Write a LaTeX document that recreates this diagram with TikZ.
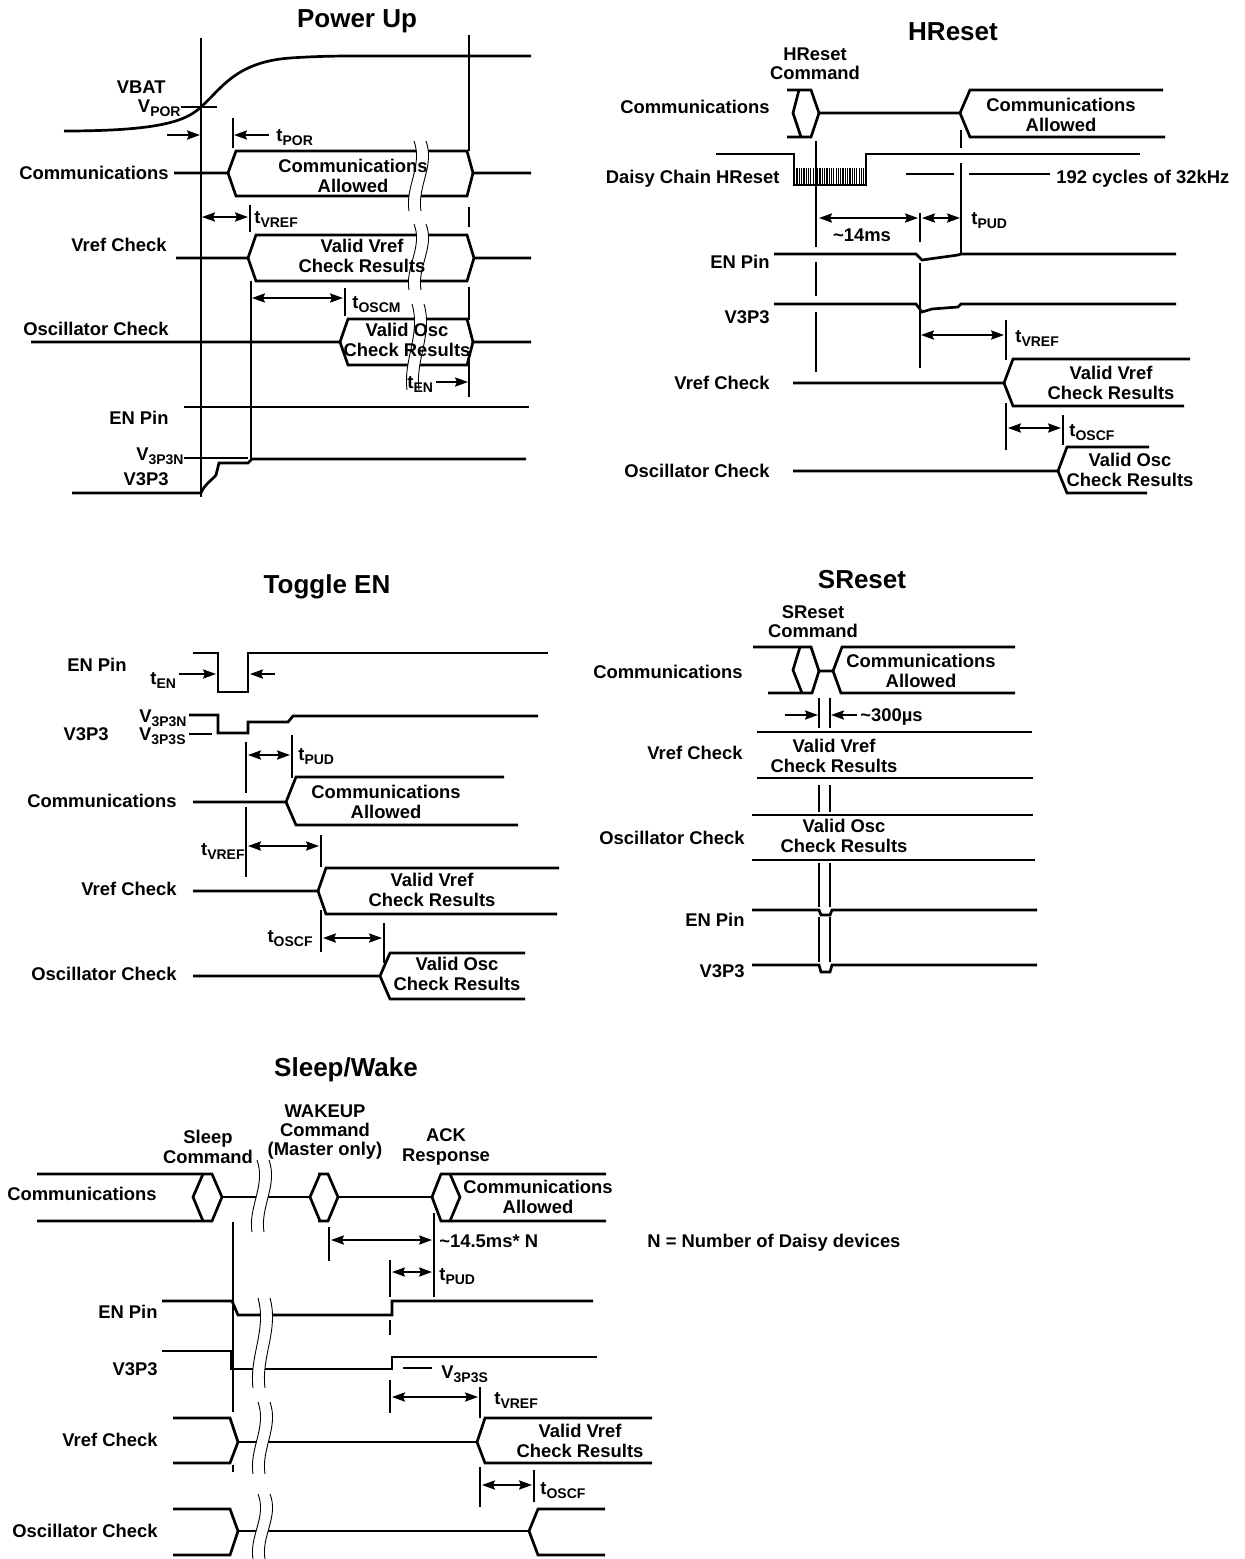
\documentclass[tikz,border=0pt]{standalone}
\usepackage{fontspec}
\setmainfont{Liberation Sans}
\usetikzlibrary{arrows.meta}
\newcommand\sub[1]{\raisebox{-2.4pt}{\fontsize{7}{7}\selectfont #1}}
\newcommand\brkmark[3]{%
 \fill[white] (#1,#2) .. controls ({#1+9},{#2+0.35*(#3-#2)}) and ({#1-9},{#2+0.65*(#3-#2)}) .. ({#1-5},#3) -- ({#1+7},#3) .. controls ({#1+3},{#2+0.65*(#3-#2)}) and ({#1+21},{#2+0.35*(#3-#2)}) .. ({#1+12},#2) -- cycle;
 \draw[line width=0.45pt] (#1,#2) .. controls ({#1+9},{#2+0.35*(#3-#2)}) and ({#1-9},{#2+0.65*(#3-#2)}) .. ({#1-5},#3);
 \draw[line width=0.45pt] ({#1+12},#2) .. controls ({#1+21},{#2+0.35*(#3-#2)}) and ({#1+3},{#2+0.65*(#3-#2)}) .. ({#1+7},#3);
}
\begin{document}
\begin{tikzpicture}[x=0.5pt,y=-0.5pt,
  >={Stealth[length=6.5pt,width=4.6pt,inset=1pt]},
  wv/.style={line width=1.35pt,line join=miter},
  tk/.style={line width=0.9pt},
  dim/.style={line width=0.9pt,<->},
  arr/.style={line width=0.9pt,->},
  lbl/.style={font=\bfseries\fontsize{9.2}{9.6}\selectfont,inner sep=0pt},
  ttl/.style={font=\bfseries\fontsize{13}{14}\selectfont,inner sep=0pt}]
\useasboundingbox (0,0) rectangle (1244,1559);
\fill[white] (0,0) rectangle (1244,1559);

%================ POWER UP =================
\node[ttl] (puT) at (357,21) {Power Up};
\draw[tk] (201,38) -- (201,497);
\draw[tk] (469,35) -- (469,151);
\draw[tk] (469,207) -- (469,227);
\draw[tk] (469,287) -- (469,320);
\draw[tk] (469,360) -- (469,397);
% VBAT
\draw[wv] (64,131) .. controls (160,131) and (186,121) .. (201,107) .. controls (222,88) and (236,62) .. (290,58) .. controls (320,56) and (340,56) .. (360,56) -- (531,56);
\node[lbl,anchor=base east] (puVbat) at (166,93) {VBAT};
\node[lbl,anchor=base east] (puVpor) at (181,112) {V\sub{POR}};
\draw[tk] (181,107) -- (217,107);
% tPOR
\draw[arr] (167,135) -- (200,135);
\draw[tk] (233,118) -- (233,148);
\draw[arr] (269,135) -- (234,135);
\node[lbl,anchor=base west] (puTpor) at (276,141) {t\sub{POR}};
% Communications
\node[lbl,anchor=base east] (puCom) at (169,179) {Communications};
\draw[wv] (174,173) -- (228,173) -- (236,151) -- (467,151) -- (473,173) -- (531,173);
\draw[wv] (228,173) -- (236,196) -- (467,196) -- (473,173);
% tVREF
\draw[dim] (202,217) -- (248,217);
\draw[tk] (250,205) -- (250,232);
\node[lbl,anchor=base west] (puTvref) at (254,223) {t\sub{VREF}};
\draw[tk] (251,281) -- (251,460);
% Vref
\node[lbl,anchor=base east] (puVref) at (167,251) {Vref Check};
\draw[wv] (176,258) -- (248,258) -- (256,235) -- (467,235) -- (474,258) -- (531,258);
\draw[wv] (248,258) -- (256,281) -- (467,281) -- (474,258);
% tOSCM
\draw[dim] (252,298) -- (343,298);
\draw[tk] (345,288) -- (345,316);
\node[lbl,anchor=base west] (puToscm) at (352,308) {t\sub{OSCM}};
% Osc
\node[lbl,anchor=base east] (puOsc) at (169,335) {Oscillator Check};
\draw[wv] (31,342) -- (340,342) -- (348,319) -- (467,319) -- (473,342) -- (531,342);
\draw[wv] (340,342) -- (348,365) -- (467,365) -- (473,342);
% EN pin
\node[lbl,anchor=base east] (puEn) at (169,424) {EN Pin};
\draw[wv] (184,407) -- (529,407);
% V3P3
\node[lbl,anchor=base east] (puV3n) at (184,460) {V\sub{3P3N}};
\draw[tk] (184,458) -- (248,458);
\draw[wv] (72,493) -- (201,493) .. controls (204,485) and (212,480) .. (216,475) -- (219,463) -- (248,463) -- (252,459) -- (526,459);
\node[lbl,anchor=base east] (puV3) at (169,485) {V3P3};
% breaks
\brkmark{414}{141}{211}
\brkmark{414}{224}{290}
\brkmark{412}{304}{390}
\node[lbl,align=center] (puComTxt) at (353,176) {Communications\\Allowed};
\node[lbl,align=center] (puVrefTxt) at (362,256) {Valid Vref\\Check Results};
\node[lbl,align=center] (puOscTxt) at (407,340) {Valid Osc\\Check Results};
% tEN
\node[lbl,anchor=base west] (puTen) at (407,388) {t\sub{EN}};
\draw[arr] (436,382) -- (468,382);

%================ HRESET =================
\node[ttl] (hrT) at (953,32) {HReset};
\node[lbl,align=center] (hrCmd) at (815,64) {HReset\\Command};
\node[lbl,anchor=base east] (hrCom) at (770,113) {Communications};
\draw[wv] (787,90) -- (811,90) -- (819,113) -- (960,113) -- (970,90) -- (1163,90);
\draw[wv] (787,137) -- (811,137) -- (819,113);
\draw[wv] (960,113) -- (970,137) -- (1165,137);
\draw[wv] (799,90) -- (793,113) -- (801,137);
\node[lbl,align=center] (hrComTxt) at (1061,115) {Communications\\Allowed};
\draw[tk] (816,141) -- (816,247);
\draw[tk] (816,262) -- (816,296);
\draw[tk] (816,312) -- (816,372);
\draw[tk] (961,130) -- (961,148);
\draw[tk] (961,163) -- (961,254);
% daisy
\node[lbl,anchor=base east] (hrDc) at (780,183) {Daisy Chain HReset};
\draw[wv] (716,154) -- (794,154) -- (794,185) -- (866,185) -- (866,154) -- (1140,154);
\foreach \hx in {797,799.3,...,864} \draw[line width=0.6pt] (\hx,168) -- (\hx,185);
\draw[tk] (906,174) -- (954,174);
\draw[tk] (969,174) -- (1050,174);
\node[lbl,anchor=base west] (hr192) at (1056,183) {192 cycles of 32kHz};
% 14ms / tPUD
\draw[dim] (819,218) -- (918,218);
\draw[tk] (920,213) -- (920,242);
\draw[tk] (920,263) -- (920,368);
\node[lbl] (hr14) at (862,235) {\textasciitilde14ms};
\draw[dim] (922,218) -- (960,218);
\node[lbl,anchor=base west] (hrTpud) at (971,224) {t\sub{PUD}};
% EN pin
\node[lbl,anchor=base east] (hrEn) at (770,268) {EN Pin};
\draw[wv] (774,254) -- (916,254) -- (922,260) -- (958,255) -- (961,254) -- (1176,254);
% V3P3
\node[lbl,anchor=base east] (hrV3) at (770,323) {V3P3};
\draw[wv] (774,304) -- (916,304) -- (922,312) -- (932,309) -- (958,307) -- (961,304) -- (1176,304);
% tVREF
\draw[dim] (921,335) -- (1004,335);
\draw[tk] (1006,320) -- (1006,360);
\node[lbl,anchor=base west] (hrTvref) at (1015,342) {t\sub{VREF}};
% Vref
\node[lbl,anchor=base east] (hrVref) at (770,389) {Vref Check};
\draw[wv] (793,383) -- (1004,383) -- (1013,359) -- (1190,359);
\draw[wv] (1004,383) -- (1013,406) -- (1184,406);
\node[lbl,align=center] (hrVrefTxt) at (1111,383) {Valid Vref\\Check Results};
% tOSCF
\draw[tk] (1006,403) -- (1006,450);
\draw[dim] (1008,428) -- (1061,428);
\draw[tk] (1063,415) -- (1063,445);
\node[lbl,anchor=base west] (hrToscf) at (1069,436) {t\sub{OSCF}};
% Osc
\node[lbl,anchor=base east] (hrOsc) at (770,477) {Oscillator Check};
\draw[wv] (793,471) -- (1058,471) -- (1067,447) -- (1149,447);
\draw[wv] (1058,471) -- (1067,493) -- (1147,493);
\node[lbl,align=center] (hrOscTxt) at (1130,470) {Valid Osc\\Check Results};

%================ TOGGLE EN =================
\node[ttl] (teT) at (327,587) {Toggle EN};
\node[lbl,anchor=base east] (teEn) at (127,671) {EN Pin};
\draw[wv] (193,653) -- (218,653) -- (218,692) -- (248,692) -- (248,653) -- (548,653);
\node[lbl,anchor=base west] (teTen) at (150,684) {t\sub{EN}};
\draw[arr] (179,674) -- (216,674);
\draw[arr] (275,674) -- (250,674);
\node[lbl,anchor=base east] (teV3n) at (187,722) {V\sub{3P3N}};
\draw[wv] (189,715) -- (218,715) -- (218,733) -- (248,733) -- (248,722) -- (288,722) -- (293,716) -- (538,716);
\node[lbl,anchor=base east] (teV3) at (109,740) {V3P3};
\node[lbl,anchor=base east] (teV3s) at (186,740) {V\sub{3P3S}};
\draw[tk] (189,734) -- (212,734);
% tPUD
\draw[tk] (246,742) -- (246,793);
\draw[dim] (248,755) -- (290,755);
\draw[tk] (292,735) -- (292,778);
\node[lbl,anchor=base west] (teTpud) at (298,760) {t\sub{PUD}};
% Comm
\node[lbl,anchor=base east] (teCom) at (177,807) {Communications};
\draw[wv] (193,802) -- (286,802) -- (296,777) -- (504,777);
\draw[wv] (286,802) -- (296,825) -- (518,825);
\node[lbl,align=center] (teComTxt) at (386,802) {Communications\\Allowed};
% tVREF
\draw[tk] (246,807) -- (246,877);
\node[lbl,anchor=base east] (teTvref) at (245,855) {t\sub{VREF}};
\draw[dim] (248,846) -- (319,846);
\draw[tk] (321,835) -- (321,867);
% Vref
\node[lbl,anchor=base east] (teVref) at (177,895) {Vref Check};
\draw[wv] (193,891) -- (318,891) -- (326,868) -- (559,868);
\draw[wv] (318,891) -- (326,914) -- (557,914);
\node[lbl,align=center] (teVrefTxt) at (432,890) {Valid Vref\\Check Results};
% tOSCF
\draw[tk] (321,910) -- (321,952);
\node[lbl,anchor=base east] (teToscf) at (313,942) {t\sub{OSCF}};
\draw[dim] (323,938) -- (382,938);
\draw[tk] (384,923) -- (384,963);
% Osc
\node[lbl,anchor=base east] (teOsc) at (177,980) {Oscillator Check};
\draw[wv] (193,976) -- (380,976) -- (390,953) -- (525,953);
\draw[wv] (380,976) -- (390,999) -- (525,999);
\node[lbl,align=center] (teOscTxt) at (457,974) {Valid Osc\\Check Results};

%================ SRESET =================
\node[ttl] (srT) at (862,580) {SReset};
\node[lbl,align=center] (srCmd) at (813,622) {SReset\\Command};
\node[lbl,anchor=base east] (srCom) at (743,678) {Communications};
\draw[wv] (753,647) -- (811,647) -- (819,671) -- (833,671) -- (842,647) -- (1015,647);
\draw[wv] (768,693) -- (812,693) -- (819,671);
\draw[wv] (800,647) -- (793,670) -- (802,693);
\draw[wv] (833,671) -- (841,693) -- (1015,693);
\node[lbl,align=center] (srComTxt) at (921,671) {Communications\\Allowed};
\draw[arr] (785,715) -- (818,715);
\draw[arr] (857,715) -- (831,715);
\node[lbl,anchor=base west] (sr300) at (860,721) {\textasciitilde300µs};
\foreach \sx in {819,830} {
  \draw[tk] (\sx,698) -- (\sx,728);
  \draw[tk] (\sx,785) -- (\sx,812);
  \draw[tk] (\sx,863) -- (\sx,907);
  \draw[tk] (\sx,917) -- (\sx,962);
}
\node[lbl,anchor=base east] (srVref) at (743,759) {Vref Check};
\draw[wv] (757,732) -- (1032,732);
\draw[wv] (757,778) -- (1033,778);
\node[lbl,align=center] (srVrefTxt) at (834,756) {Valid Vref\\Check Results};
\node[lbl,anchor=base east] (srOsc) at (745,844) {Oscillator Check};
\draw[wv] (752,815) -- (1033,815);
\draw[wv] (752,860) -- (1035,860);
\node[lbl,align=center] (srOscTxt) at (844,836) {Valid Osc\\Check Results};
\node[lbl,anchor=base east] (srEn) at (745,926) {EN Pin};
\draw[wv] (752,910) -- (819,910) -- (821,915) -- (830,915) -- (832,910) -- (1037,910);
\node[lbl,anchor=base east] (srV3) at (745,977) {V3P3};
\draw[wv] (752,965) -- (819,965) -- (821,972) -- (830,972) -- (832,965) -- (1037,965);

%================ SLEEP / WAKE =================
\node[ttl] (swT) at (346,1070) {Sleep/Wake};
\node[lbl,align=center] (swSlp) at (208,1147) {Sleep\\Command};
\node[lbl,align=center] (swWk) at (325,1132) {WAKEUP\\Command\\(Master only)};
\node[lbl,align=center] (swAck) at (446,1147) {ACK\\Response};
\node[lbl,anchor=base east] (swCom) at (157,1200) {Communications};
\draw[wv] (37,1174) -- (212,1174) -- (222,1197) -- (212,1221) -- (37,1221);
\draw[wv] (203,1174) -- (193,1197) -- (203,1221);
\draw[wv] (222,1197) -- (310,1197);
\draw[wv] (318,1174) -- (328,1174) -- (338,1197) -- (328,1221) -- (318,1221);
\draw[wv] (320,1174) -- (310,1197) -- (320,1221);
\draw[wv] (338,1197) -- (432,1197);
\draw[wv] (606,1174) -- (441,1174) -- (432,1197) -- (441,1221) -- (606,1221);
\draw[wv] (450,1174) -- (460,1197) -- (450,1221);
\draw[tk] (233,1222) -- (233,1412);
\draw[tk] (233,1465) -- (233,1472);
% 14.5ms
\draw[tk] (329,1227) -- (329,1261);
\draw[dim] (331,1240) -- (432,1240);
\draw[tk] (434,1213) -- (434,1297);
\node[lbl,anchor=base west] (sw145) at (439,1247) {\textasciitilde14.5ms* N};
\node[lbl,anchor=base west] (swN) at (647,1247) {N = Number of Daisy devices};
% tPUD
\draw[tk] (390,1260) -- (390,1297);
\draw[tk] (390,1320) -- (390,1335);
\draw[tk] (390,1380) -- (390,1413);
\draw[dim] (392,1272) -- (432,1272);
\node[lbl,anchor=base west] (swTpud) at (439,1280) {t\sub{PUD}};
% EN
\node[lbl,anchor=base east] (swEn) at (158,1318) {EN Pin};
\draw[wv] (162,1301) -- (232,1301) -- (238,1315) -- (392,1315) -- (392,1301) -- (593,1301);
% V3P3
\node[lbl,anchor=base east] (swV3) at (158,1375) {V3P3};
\draw[wv] (162,1351) -- (231,1351) -- (231,1369) -- (392,1369) -- (392,1357) -- (597,1357);
\draw[tk] (403,1368) -- (432,1368);
\node[lbl,anchor=base west] (swV3s) at (441,1378) {V\sub{3P3S}};
% tVREF
\draw[dim] (392,1397) -- (478,1397);
\draw[tk] (480,1387) -- (480,1418);
\node[lbl,anchor=base west] (swTvref) at (494,1404) {t\sub{VREF}};
% Vref
\node[lbl,anchor=base east] (swVref) at (158,1446) {Vref Check};
\draw[wv] (173,1418) -- (230,1418) -- (238,1442) -- (230,1463) -- (173,1463);
\draw[wv] (238,1442) -- (477,1442);
\draw[wv] (652,1418) -- (485,1418) -- (477,1442) -- (485,1463) -- (652,1463);
% tOSCF
\draw[tk] (480,1467) -- (480,1507);
\draw[dim] (482,1485) -- (532,1485);
\draw[tk] (534,1470) -- (534,1502);
\node[lbl,anchor=base west] (swToscf) at (540,1494) {t\sub{OSCF}};
% Osc
\node[lbl,anchor=base east] (swOsc) at (158,1537) {Oscillator Check};
\draw[wv] (173,1509) -- (230,1509) -- (238,1531) -- (230,1555) -- (173,1555);
\draw[wv] (238,1531) -- (529,1531);
\draw[wv] (605,1509) -- (538,1509) -- (529,1531) -- (538,1555) -- (605,1555);
% breaks
\brkmark{257}{1160}{1232}
\brkmark{258}{1298}{1388}
\brkmark{258}{1402}{1474}
\brkmark{258}{1494}{1559}
\node[lbl,align=center] (swComTxt) at (538,1197) {Communications\\Allowed};
\node[lbl,align=center] (swVrefTxt) at (580,1441) {Valid Vref\\Check Results};
\end{tikzpicture}
\end{document}
